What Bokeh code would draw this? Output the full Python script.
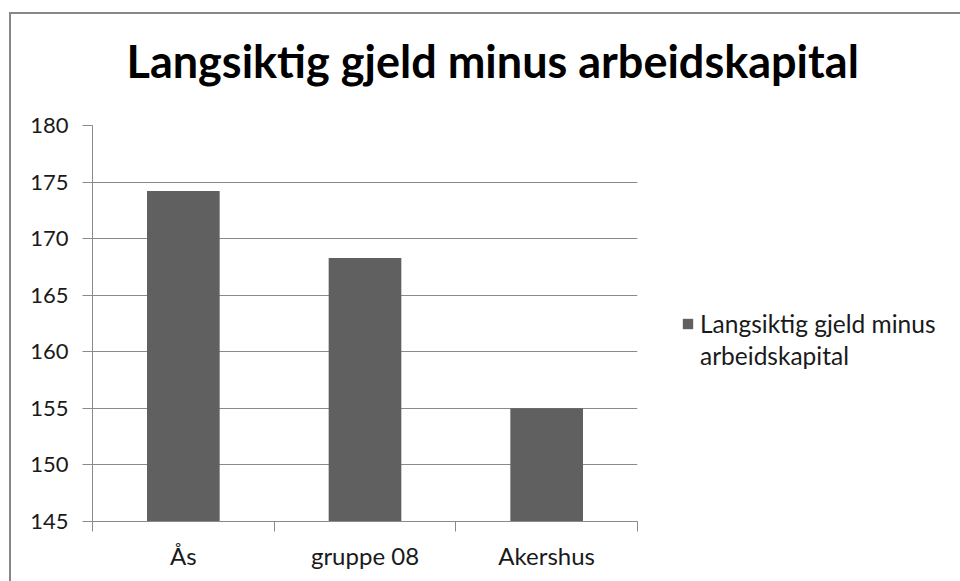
from bokeh.plotting import figure
from bokeh.models import (ColumnDataSource, Range1d, FixedTicker, LinearAxis,
                          Legend, LegendItem, Title, ColorBar, LinearColorMapper)
from bokeh.embed import file_html
from bokeh.resources import INLINE

categories = ["Ås", "gruppe 08", "Akershus"]
values = [174.2, 168.3, 155.0]
legend_lines = ["Langsiktig gjeld minus", "arbeidskapital"]
title_text = "Langsiktig gjeld minus arbeidskapital"
y_min, y_max, y_step = 145, 180, 5

FONT = "Lato"
GRID = "#8a8a8a"
BAR = "#606060"
TXT = "#1a1a1a"

n = len(categories)
centers = [i + 0.5 for i in range(n)]
bounds = list(range(n + 1))
src = ColumnDataSource(dict(x=centers, top=values, cat=categories))

p = figure(frame_width=545, frame_height=396, output_backend="svg",
           toolbar_location=None,
           x_range=Range1d(0, n), y_range=Range1d(y_min, y_max),
           x_axis_location=None, y_axis_location=None,
           min_border_left=81, min_border_top=111, min_border_right=323,
           min_border_bottom=60)
p.title = None
p.outline_line_color = None
p.styles = {"border-top": "2px solid #878787", "border-left": "2px solid #878787",
            "margin-left": "9px", "margin-top": "12px"}

r = p.vbar(x="x", top="top", bottom=y_min, width=0.4, source=src,
           fill_color=BAR, line_color=None)
r_blank = p.vbar(x="x", top="top", bottom=y_min, width=0.4, source=src,
                 fill_alpha=0, line_alpha=0)

# invisible spacer between the title and the plot area
spacer = ColorBar(color_mapper=LinearColorMapper(palette=["#ffffff"], low=0, high=1),
                  orientation="horizontal", height=32, margin=0, padding=0,
                  ticker=FixedTicker(ticks=[]), scale_alpha=0,
                  bar_line_color=None, major_tick_line_color=None,
                  minor_tick_line_color=None, border_line_color=None,
                  background_fill_alpha=0)
p.add_layout(spacer, "above")

# title (outside the spacer)
title = Title(text=title_text, align="left", offset=34, standoff=11,
              text_font=FONT, text_font_style="bold", text_font_size="45px",
              text_color="#000000")
p.add_layout(title, "above")

# y axis
yax = LinearAxis(ticker=FixedTicker(ticks=list(range(y_min, y_max + 1, y_step))))
yax.axis_line_color = GRID
yax.major_tick_line_color = GRID
yax.major_tick_out = 10
yax.major_tick_in = 0
yax.minor_tick_line_color = None
yax.major_label_standoff = 14
yax.major_label_text_font = FONT
yax.major_label_text_font_size = "22px"
yax.major_label_text_color = TXT
p.add_layout(yax, "left")

# x axis: labels at category centres, tick marks at category boundaries
xax = LinearAxis(ticker=FixedTicker(ticks=centers, minor_ticks=bounds),
                 major_label_overrides={c: cat for c, cat in zip(centers, categories)})
xax.axis_line_color = GRID
xax.major_tick_line_color = None
xax.major_tick_out = 10
xax.major_tick_in = 0
xax.minor_tick_line_color = GRID
xax.minor_tick_out = 10
xax.minor_tick_in = 0
xax.major_label_standoff = 9
xax.major_label_text_font = FONT
xax.major_label_text_font_size = "24px"
xax.major_label_text_color = TXT
p.add_layout(xax, "below")

p.xgrid.visible = False
p.ygrid.grid_line_color = GRID
p.ygrid.ticker = yax.ticker

legend = Legend(items=[LegendItem(label=legend_lines[0], renderers=[r]),
                       LegendItem(label=legend_lines[1], renderers=[r_blank])],
                location=(44, 151), padding=0, margin=0, spacing=3,
                glyph_width=13, glyph_height=13, label_standoff=6,
                border_line_color=None, background_fill_alpha=0,
                label_text_font=FONT, label_text_font_size="24.5px",
                label_text_color=TXT)
p.add_layout(legend, "right")

open("out.html", "w").write(file_html(p, INLINE))
